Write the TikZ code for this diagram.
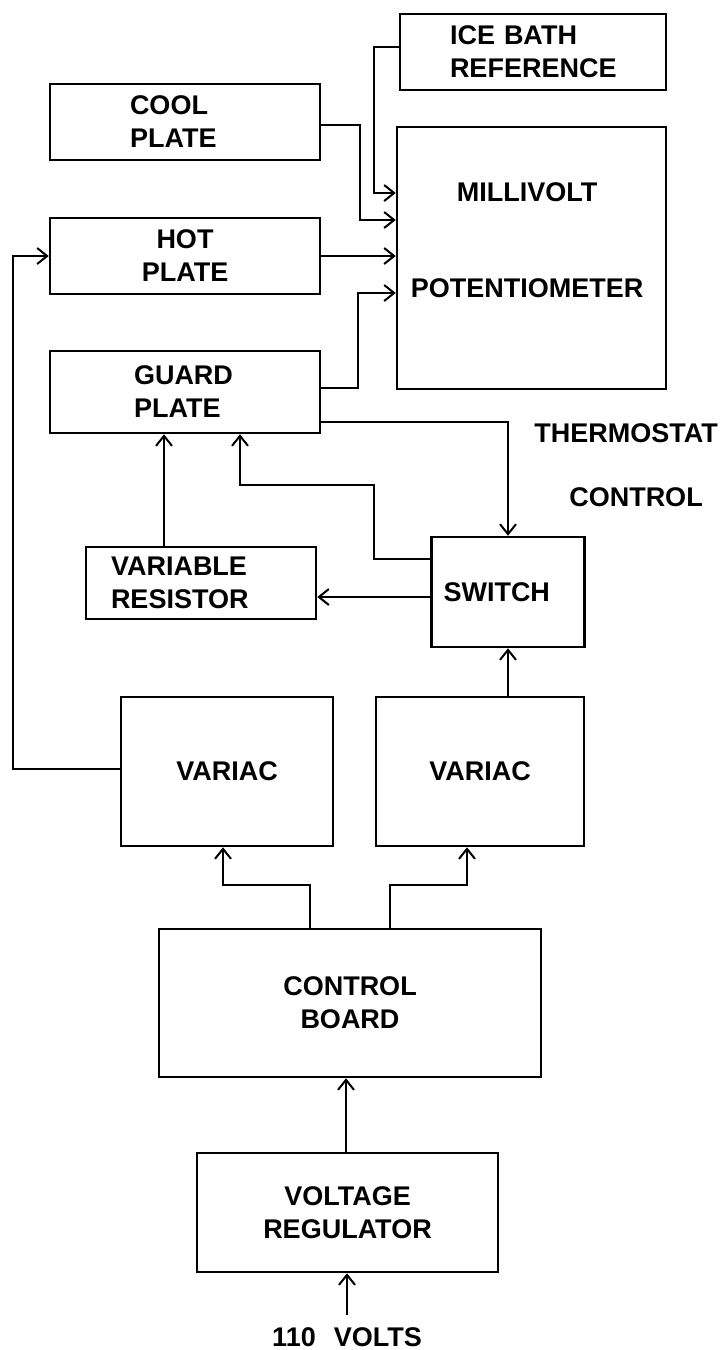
\documentclass[tikz,border=0pt]{standalone}
\usepackage{fontspec}
\setmainfont{Liberation Sans}
\usetikzlibrary{arrows.meta}
\newcommand{\lblfont}{\fontsize{27}{33}\selectfont\bfseries}
\begin{document}
\begin{tikzpicture}[x=1pt,y=-1pt,
  box/.style={draw, line width=2.5pt, inner sep=0pt, align=center, font=\lblfont},
  lbox/.style={draw, line width=2.5pt, inner ysep=0pt, align=left, font=\lblfont},
  txt/.style={inner sep=0pt, align=center, font=\lblfont},
  arr/.style={line width=2pt, -{Straight Barb[length=10pt,width=16pt,line width=2pt]}}
]
\useasboundingbox (0,0) rectangle (726,1350);

% boxes
\node[lbox, inner xsep=50pt, text width=166pt, minimum height=76pt] (ice) at (533,52) {ICE BATH\\REFERENCE};
\node[lbox, inner xsep=80pt, text width=110pt, minimum height=76pt] (cool) at (185,122) {COOL\\PLATE};
\node[box, minimum width=269pt, minimum height=262pt] (mv) at (531.5,258) {};
\node[txt] (mvtext) at (527,240) {MILLIVOLT\\[63pt]POTENTIOMETER};
\node[box, minimum width=270pt, minimum height=76pt] (hot) at (185,256) {HOT\\PLATE};
\node[lbox, inner xsep=84pt, text width=102pt, minimum height=82pt] (guard) at (185,392) {GUARD\\PLATE};
\node[txt] (thermo) at (626,433) {THERMOSTAT};
\node[txt] (control) at (636,497) {CONTROL};
\node[lbox, inner xsep=25pt, text width=180pt, minimum height=72pt] (vr) at (201,583) {VARIABLE\\RESISTOR};
\node[lbox, inner xsep=12pt, text width=129pt, minimum height=110pt] (sw) at (508,592) {SWITCH};
\node[box, minimum width=212pt, minimum height=149pt] (var1) at (227,771.5) {VARIAC};
\node[box, minimum width=208pt, minimum height=149pt] (var2) at (480,771.5) {VARIAC};
\node[box, minimum width=382pt, minimum height=148pt] (cb) at (350,1003) {CONTROL\\BOARD};
\node[box, minimum width=301pt, minimum height=119pt] (reg) at (347.5,1212.5) {VOLTAGE\\REGULATOR};
\node[txt, inner sep=12pt] (volts) at (347,1337) {110\hspace{18pt}VOLTS};

% connectors into the potentiometer
\draw[arr] ([yshift=5pt]ice.west) -- ++(-25,0) |- (mv.west |- 0,193);
\draw[arr] ([yshift=-3pt]cool.east) -- ++(39,0) |- (mv.west |- 0,220);
\draw[arr] (hot.east) -- (mv.west |- hot.east);
\draw[arr] ([yshift=4pt]guard.east) -- ++(37,0) |- (mv.west |- 0,293);

% guard plate / switch / resistor
\draw[arr] ([yshift=-30pt]guard.east) -| (sw.north);
\draw[arr] (sw.west |- 0,559) -- ++(-56,0) |- ([xshift=55pt]guard.south |- 0,485) -- ([xshift=55pt]guard.south);
\draw[arr] (sw.west |- 0,597) -- (vr.east |- 0,597);
\draw[arr] ([xshift=-37pt]vr.north) -- ([xshift=-37pt]vr.north |- guard.south);

% variacs
\draw[arr] ([yshift=2.5pt]var1.west) -- ++(-107,0) |- (hot.west);
\draw[arr] (sw.south |- var2.north) -- (sw.south);
\draw[arr] ([xshift=-40pt]cb.north) -- ++(0,-43) -| ([xshift=-4pt]var1.south);
\draw[arr] ([xshift=40pt]cb.north) -- ++(0,-43) -| ([xshift=-13pt]var2.south);

% supply
\draw[arr] ([xshift=-1.5pt]reg.north) -- ([xshift=-1.5pt]reg.north |- cb.south);
\draw[arr] (volts.north) -- (volts.north |- reg.south);
\end{tikzpicture}
\end{document}
